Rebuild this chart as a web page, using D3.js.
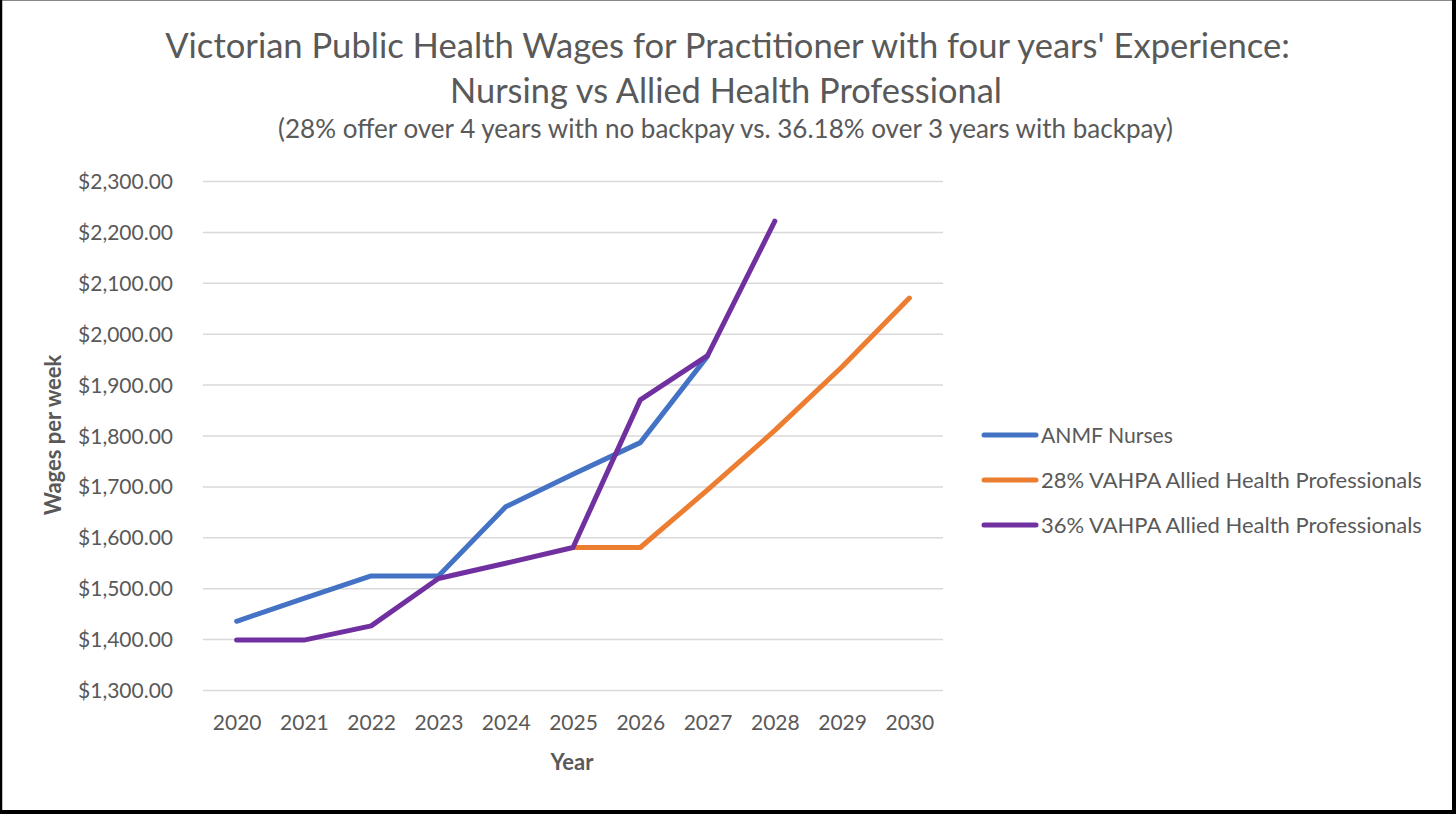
<!DOCTYPE html>
<html>
<head>
<meta charset="utf-8">
<script src="https://cdn.jsdelivr.net/npm/d3@7/dist/d3.min.js"></script>
<style>
  html, body { margin: 0; padding: 0; background: #fff; }
  svg { display: block; }
  text { font-family: Lato, "Open Sans", "DejaVu Sans", sans-serif; fill: #595959; }
</style>
</head>
<body>
<svg id="chart" width="1456" height="814"></svg>
<script>
// ---- data ----
const years = [2020, 2021, 2022, 2023, 2024, 2025, 2026, 2027, 2028, 2029, 2030];
const anmfNurses = [1435, 1480, 1524, 1524, 1660, 1724, 1786, 1956, null, null, null];
const vahpa28 = [null, null, null, null, null, 1580, 1580, 1693, 1810, 1935, 2070];
const vahpa36 = [1398, 1398, 1426, 1519, 1549, 1580, 1870, 1957, 2221, null, null];
const yTicks = [1300, 1400, 1500, 1600, 1700, 1800, 1900, 2000, 2100, 2200, 2300];
const seriesNames = ["ANMF Nurses", "28% VAHPA Allied Health Professionals", "36% VAHPA Allied Health Professionals"];
const seriesColors = ["#4472C4", "#ED7D31", "#7030A0"];
const titleLines = ["Victorian Public Health Wages for Practitioner with four years' Experience:", "Nursing vs Allied Health Professional"];
const subtitle = "(28% offer over 4 years with no backpay vs. 36.18% over 3 years with backpay)";
const xTitle = "Year";
const yTitle = "Wages per week";

// ---- layout ----
const W = 1456, H = 814;
const plot = { left: 203, right: 943, top: 181, bottom: 690 };
const svg = d3.select("#chart");

const x = d3.scalePoint().domain(years).range([plot.left, plot.right]).padding(0.5);
const y = d3.scaleLinear().domain([1300, 2300]).range([plot.bottom, plot.top]);

// helper: scale font so text reaches a target width
function fitFont(sel, base, target) {
  sel.style("font-size", base + "px");
  const len = sel.node().getComputedTextLength();
  if (len > 0) sel.style("font-size", (base * target / len).toFixed(2) + "px");
}

// frame
svg.append("rect").attr("x", 0).attr("y", 0).attr("width", W).attr("height", H).attr("fill", "#fff");
svg.append("line").attr("x1", 0).attr("x2", W).attr("y1", 0.5).attr("y2", 0.5).attr("stroke", "#888").attr("stroke-width", 1);
svg.append("line").attr("x1", 1).attr("x2", 1).attr("y1", 0).attr("y2", H).attr("stroke", "#000").attr("stroke-width", 2.5);
svg.append("line").attr("x1", W - 2).attr("x2", W - 2).attr("y1", 0).attr("y2", H).attr("stroke", "#000").attr("stroke-width", 4);
svg.append("line").attr("x1", 0).attr("x2", W).attr("y1", H - 2).attr("y2", H - 2).attr("stroke", "#000").attr("stroke-width", 4);

// titles
const t1 = svg.append("text").attr("x", 727.5).attr("y", 57.5).attr("text-anchor", "middle")
  .style("font-weight", 400).text(titleLines[0]);
fitFont(t1, 31, 1125);
const t2 = svg.append("text").attr("x", 726).attr("y", 103.3).attr("text-anchor", "middle")
  .style("font-weight", 400).text(titleLines[1]);
fitFont(t2, 31, 552);
const t3 = svg.append("text").attr("x", 725.5).attr("y", 137.5).attr("text-anchor", "middle")
  .text(subtitle);
fitFont(t3, 22, 895);

// y gridlines + axis
const yAxis = d3.axisLeft(y).tickValues(yTicks).tickSize(-(plot.right - plot.left)).tickPadding(30)
  .tickFormat(d => "$" + d3.format(",.2f")(d));
const gy = svg.append("g").attr("transform", `translate(${plot.left},0)`).call(yAxis);
gy.select(".domain").remove();
gy.selectAll(".tick line").attr("stroke", "#d9d9d9").attr("stroke-width", 1.5);
gy.selectAll(".tick text").style("font-size", "21px").attr("fill", "#595959").attr("dy", "0.36em");

// x axis labels
const xAxis = d3.axisBottom(x).tickSize(0).tickPadding(0);
const gx = svg.append("g").attr("transform", `translate(0,${plot.bottom})`).call(xAxis);
gx.select(".domain").remove();
gx.selectAll(".tick text").style("font-size", "21px").attr("fill", "#595959").attr("dy", "0").attr("y", 39.5);

// axis titles
svg.append("text").attr("x", 572).attr("y", 769.5).attr("text-anchor", "middle")
  .style("font-size", "22px").style("font-weight", 700).attr("fill", "#595959").text(xTitle);
svg.append("text").attr("transform", "translate(61,435) rotate(-90)").attr("text-anchor", "middle")
  .style("font-size", "22px").style("font-weight", 700).text(yTitle);

// lines
const allSeries = [anmfNurses, vahpa28, vahpa36];
const line = d3.line()
  .defined(d => d.v != null)
  .x(d => x(d.year))
  .y(d => y(d.v));
allSeries.forEach((vals, i) => {
  const pts = years.map((yr, j) => ({ year: yr, v: vals[j] }));
  svg.append("path").datum(pts).attr("d", line)
    .attr("fill", "none").attr("stroke", seriesColors[i]).attr("stroke-width", 5)
    .attr("stroke-linejoin", "round").attr("stroke-linecap", "round");
});

// legend
const legendY = [435, 480, 525];
const legendW = [132, 381, 381];
seriesNames.forEach((name, i) => {
  const g = svg.append("g");
  g.append("line").attr("x1", 984).attr("x2", 1036).attr("y1", legendY[i]).attr("y2", legendY[i])
    .attr("stroke", seriesColors[i]).attr("stroke-width", 5).attr("stroke-linecap", "round");
  const t = g.append("text").attr("x", 1041).attr("y", legendY[i]).attr("dy", "0.36em").text(name);
  fitFont(t, 21, legendW[i]);
});
</script>
</body>
</html>
